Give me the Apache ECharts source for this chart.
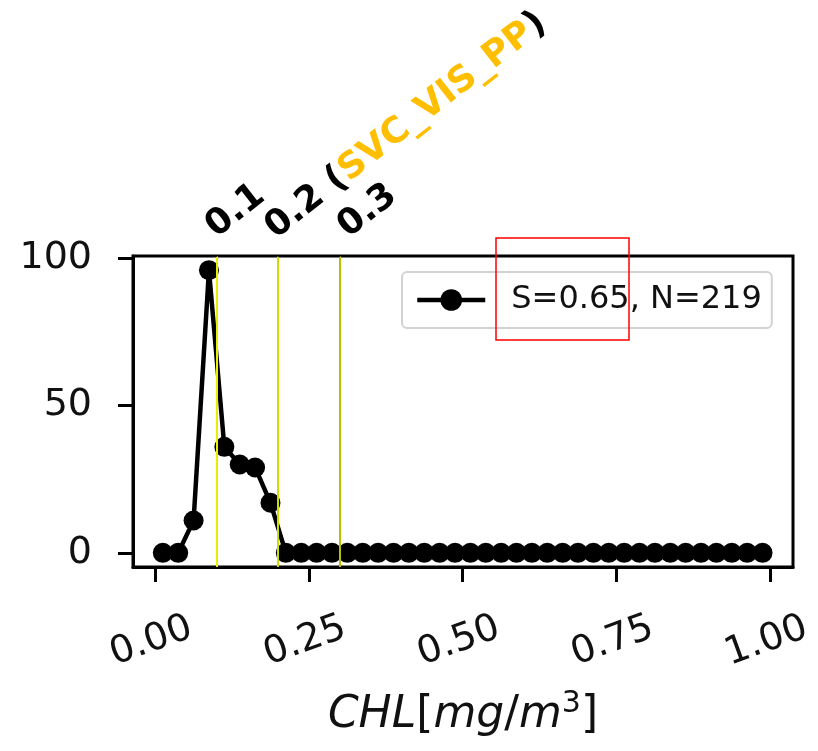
<!DOCTYPE html>
<html>
<head>
<meta charset="utf-8">
<script src="https://cdn.jsdelivr.net/npm/echarts@6/dist/echarts.min.js"></script>
<style>
  html, body { margin: 0; padding: 0; background: #ffffff; }
  #chart { width: 818px; height: 751px; }
</style>
</head>
<body>
<div id="chart"></div>
<script>
// Histogram of CHL values: bin centres (mg/m^3) and counts per bin
const binCenters = [
  0.0125, 0.0375, 0.0625, 0.0875, 0.1125, 0.1375, 0.1625, 0.1875,
  0.2125, 0.2375, 0.2625, 0.2875, 0.3125, 0.3375, 0.3625, 0.3875,
  0.4125, 0.4375, 0.4625, 0.4875, 0.5125, 0.5375, 0.5625, 0.5875,
  0.6125, 0.6375, 0.6625, 0.6875, 0.7125, 0.7375, 0.7625, 0.7875,
  0.8125, 0.8375, 0.8625, 0.8875, 0.9125, 0.9375, 0.9625, 0.9875
];
const counts = [
  0, 0, 11, 96, 36, 30, 29, 17,
  0, 0, 0, 0, 0, 0, 0, 0,
  0, 0, 0, 0, 0, 0, 0, 0,
  0, 0, 0, 0, 0, 0, 0, 0,
  0, 0, 0, 0, 0, 0, 0, 0
];

// Tick values shown on each axis
const xTicks = [0, 0.25, 0.5, 0.75, 1.0];
const yTicks = [0, 50, 100];

// Threshold lines and their labels; the selected one names its method
const thresholds = [0.1, 0.2, 0.3];
const thresholdNames = ['0.1', '0.2', '0.3'];
const bestIndex = 1;
const bestMethod = 'SVC_VIS_PP';

const seriesName = 'S=0.65, N=219';

// Axis limits (5% padding around the data)
const xRange = [-0.036, 1.037];
const yRange = [-4.8, 100.8];

const FONT = 'DejaVu Sans';
const lineColors = ['#e6ef00', '#cadf00', '#b3c300'];
const labelNudge = [[6, -10], [4, -9], [15, -10]];

const chart = echarts.init(document.getElementById('chart'), null, { renderer: 'canvas' });

const thresholdLabelData = thresholds.map(function (t, i) {
  const text = i === bestIndex
    ? '{b|' + thresholdNames[i] + ' (}{o|' + bestMethod + '}{b|)}'
    : '{b|' + thresholdNames[i] + '}';
  return {
    value: [t, yRange[1]],
    label: { formatter: text, position: labelNudge[i] }
  };
});

const option = {
  animation: false,
  backgroundColor: '#ffffff',
  grid: {
    left: 133, right: 25, top: 256, bottom: 184,
    show: true, borderColor: '#000000', borderWidth: 3,
    backgroundColor: 'transparent',
    outerBoundsMode: 'none'
  },
  xAxis: {
    type: 'value',
    min: xRange[0],
    max: xRange[1],
    name: '{i|CHL}{n|[}{i|mg}{n|/}{i|m}{s|3}{n|]}',
    nameLocation: 'middle',
    nameGap: 122,
    nameTextStyle: {
      fontFamily: FONT,
      fontSize: 44,
      color: '#111111',
      rich: {
        i: { fontFamily: FONT, fontSize: 44, fontStyle: 'italic', color: '#111111', lineHeight: 54 },
        n: { fontFamily: FONT, fontSize: 44, color: '#111111', lineHeight: 54 },
        s: { fontFamily: FONT, fontSize: 30, color: '#111111', lineHeight: 24, verticalAlign: 'top' }
      }
    },
    axisLine: { show: true, onZero: false, lineStyle: { color: '#000000', width: 3 } },
    axisTick: { show: true, length: 15, customValues: xTicks, lineStyle: { color: '#000000', width: 3 } },
    axisLabel: {
      customValues: xTicks,
      formatter: function (v) { return v.toFixed(2); },
      rotate: 20,
      align: 'center',
      verticalAlign: 'middle',
      margin: 73,
      padding: [0, 8, 0, 0],
      fontFamily: FONT,
      fontSize: 38,
      color: '#111111'
    },
    splitLine: { show: false }
  },
  yAxis: {
    type: 'value',
    min: yRange[0],
    max: yRange[1],
    axisLine: { show: true, onZero: false, lineStyle: { color: '#000000', width: 3 } },
    axisTick: { show: true, length: 15, customValues: yTicks, lineStyle: { color: '#000000', width: 3 } },
    axisLabel: {
      customValues: yTicks,
      margin: 41,
      fontFamily: FONT,
      fontSize: 38,
      color: '#111111'
    },
    splitLine: { show: false }
  },
  legend: {
    data: [seriesName],
    left: 402,
    top: 272,
    padding: [12, 10, 12, 13],
    itemWidth: 68,
    itemHeight: 27,
    backgroundColor: 'rgba(255,255,255,0.8)',
    borderColor: '#d2d2d2',
    borderWidth: 2,
    borderRadius: 5,
    lineStyle: { color: '#000000', width: 4.5 },
    itemStyle: { color: '#000000' },
    textStyle: { fontFamily: FONT, fontSize: 32, color: '#111111', padding: [0, 0, 0, 21] }
  },
  graphic: [{
    type: 'rect',
    shape: { x: 496, y: 238, width: 133, height: 102 },
    style: { fill: null, stroke: '#ff0000', lineWidth: 1.5 },
    z: 100
  }],
  series: [
    {
      type: 'line',
      name: seriesName,
      data: binCenters.map(function (x, i) { return [x, counts[i]]; }),
      symbol: 'circle',
      symbolSize: 20,
      showAllSymbol: true,
      lineStyle: { color: '#000000', width: 4.5 },
      itemStyle: { color: '#000000' },
      z: 3,
      markLine: {
        silent: true,
        symbol: 'none',
        z: 6,
        label: { show: false },
        data: thresholds.map(function (t, i) {
          return { xAxis: t, lineStyle: { color: lineColors[i], width: 2, type: 'solid' } };
        })
      }
    },
    {
      type: 'scatter',
      data: thresholdLabelData,
      symbol: 'circle',
      symbolSize: 2,
      clip: false,
      silent: true,
      itemStyle: { color: '#000000', opacity: 1 },
      label: {
        show: true,
        rotate: 38,
        align: 'left',
        verticalAlign: 'bottom',
        color: '#000000',
        opacity: 1,
        textBorderWidth: 0,
        rich: {
          b: { fontFamily: FONT, fontSize: 36, fontWeight: 'bold', color: '#000000' },
          o: { fontFamily: FONT, fontSize: 36, fontWeight: 'bold', color: '#ffbf00' }
        }
      },
      z: 8
    }
  ]
};

chart.setOption(option);
</script>
</body>
</html>
